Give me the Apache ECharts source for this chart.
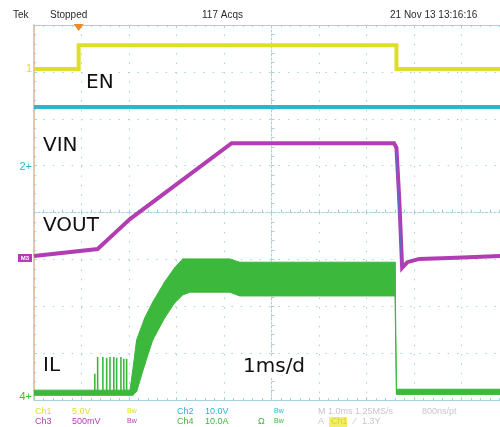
<!DOCTYPE html>
<html><head><meta charset="utf-8">
<script src="https://cdn.jsdelivr.net/npm/echarts@6/dist/echarts.min.js"></script>
<style>html,body{margin:0;padding:0;background:#fff}#c{width:500px;height:427px}</style>
</head><body><div id="c"></div>
<script>
// Horizontal: time in divisions (1 ms/div) relative to screen centre; the screen is cropped at the right.
// Vertical: level in divisions relative to screen centre.
const xMin = -5, xMax = 4.81;
const enT  = [-5, -4.06, -4.06, 2.63, 2.63, 5];
const enV  = [3.06, 3.06, 3.57, 3.57, 3.06, 3.06];
const ch2T = [-5, 5];
const ch2V = [2.25, 2.25];
const vT   = [-5, -3.66, -3.30, -2.98, -0.84, 2.58, 2.63, 2.69, 2.75, 2.86, 3.11, 3.74, 5];
const vV   = [-0.93, -0.78, -0.44, -0.14, 1.48, 1.48, 1.38, 0.27, -1.18, -1.06, -0.99, -0.97, -0.92];
const edgeT = [2.62, 2.74];
const edgeV = [1.30, -1.12];
const ilT    = [-5, -2.98, -2.92, -2.84, -2.67, -2.50, -2.25, -2.04, -1.87, -1.72, -0.88, -0.67, 2.60, 2.63, 5];
const ilHigh = [-3.79, -3.79, -3.36, -2.72, -2.25, -1.91, -1.48, -1.18, -0.99, -0.99, -0.99, -1.06, -1.06, -3.77, -3.77];
const ilLow  = [-3.90, -3.90, -3.90, -3.82, -3.25, -2.72, -2.25, -1.93, -1.76, -1.70, -1.70, -1.78, -1.78, -3.88, -3.88];
const spikeT   = [-3.72, -3.66, -3.55, -3.47, -3.40, -3.32, -3.26, -3.17, -3.11, -3.05];
const spikeTop = [-3.44, -3.08, -3.08, -3.10, -3.08, -3.08, -3.10, -3.08, -3.12, -3.12];
const ilBase = -3.86;
const triggerT = -4.06;
const chLevels = [3.06, 0.97, -0.97, -3.93];
const chNames  = ['1', '2', '3', '4'];
const chColors = ['#dede2a', '#2db4cf', '#b23db2', '#3cb83c'];
const traceLabels = [
  {text: 'EN',    x: 84,  y: 83},
  {text: 'VIN',   x: 41,  y: 146},
  {text: 'VOUT',  x: 41,  y: 226},
  {text: 'IL',    x: 41,  y: 366},
  {text: '1ms/d', x: 241, y: 367}
];

const zip = (a, b) => a.map((x, i) => [x, b[i]]);
const spikeData = [];
spikeT.forEach((t, i) => { spikeData.push([t, ilBase], [t, spikeTop[i]], [t, ilBase]); });
const bandData = [];
for (let i = 0; i < ilT.length - 1; i++) {
  bandData.push([ilT[i], ilHigh[i], ilLow[i], ilT[i + 1], ilHigh[i + 1], ilLow[i + 1]]);
}

const gridC = '#a6d2de';
const chart = echarts.init(document.getElementById('c'), null, {renderer: 'canvas'});

const lineS = (name, data, color, w, z) => ({
  name, type: 'line', data, symbol: 'none', showSymbol: false, z: z || 2,
  lineStyle: {color, width: w, join: 'miter'}, animation: false, silent: true
});
const edgeAxis = (pos) => ({
  type: 'value', min: xMin, max: xMax, interval: 1, position: pos,
  axisLine: {onZero: false, lineStyle: {color: gridC}},
  axisTick: {show: true, inside: true, length: 3, lineStyle: {color: gridC}},
  minorTick: {show: true, splitNumber: 5, length: 2, lineStyle: {color: gridC}},
  axisLabel: {show: false}, splitLine: {show: false}
});

chart.setOption({
  animation: false,
  backgroundColor: '#fff',
  grid: {left: 34, top: 25, width: 467, height: 375, show: false},
  xAxis: [
    {type: 'value', min: xMin, max: xMax, interval: 1, position: 'bottom',
     axisLine: {onZero: true, lineStyle: {color: gridC, type: [2, 2]}},
     axisTick: {show: true, inside: true, length: 3, lineStyle: {color: gridC}},
     minorTick: {show: true, splitNumber: 5, length: 3, lineStyle: {color: gridC}},
     axisLabel: {show: false},
     splitLine: {show: true, lineStyle: {color: gridC, type: [1.5, 7.9], width: 1}}},
    edgeAxis('top'),
    edgeAxis('bottom')
  ],
  yAxis: [
    {type: 'value', min: -4, max: 4, interval: 1, position: 'left',
     axisLine: {onZero: true, lineStyle: {color: gridC, type: [2, 2]}},
     axisTick: {show: true, inside: true, length: 3, lineStyle: {color: gridC}},
     minorTick: {show: true, splitNumber: 5, length: 3, lineStyle: {color: gridC}},
     axisLabel: {show: false},
     splitLine: {show: true, lineStyle: {color: gridC, type: [1.5, 7.9], width: 1}}},
    {type: 'value', min: -4, max: 4, interval: 1, position: 'left',
     axisLine: {onZero: false, lineStyle: {color: '#dcb48e', width: 1.5}},
     axisTick: {show: true, inside: true, length: 3, lineStyle: {color: gridC}},
     minorTick: {show: true, splitNumber: 5, length: 2, lineStyle: {color: gridC}},
     axisLabel: {show: false}, splitLine: {show: false}}
  ],
  series: [
    lineS('CH2', zip(ch2T, ch2V), chColors[1], 4, 2),
    lineS('EN', zip(enT, enV), chColors[0], 4, 3),
    lineS('VIN/VOUT', zip(vT, vV), chColors[2], 4, 3),
    lineS('edge', zip(edgeT, edgeV), '#5a6cc8', 1.2, 4),
    {name: 'IL', type: 'custom', data: bandData, z: 5, silent: true, clip: true,
     encode: {x: [0, 3], y: [1, 2, 4, 5]},
     renderItem: (params, api) => {
       const a = api.coord([api.value(0), api.value(1)]);
       const b = api.coord([api.value(3), api.value(4)]);
       const c = api.coord([api.value(3), api.value(5)]);
       const d = api.coord([api.value(0), api.value(2)]);
       return {type: 'polygon', shape: {points: [a, b, c, d]},
               style: {fill: chColors[3], stroke: chColors[3], lineWidth: 1}};
     }},
    lineS('IL spikes', spikeData, chColors[3], 1.6, 5)
  ]
});

const g = [];
const px = (t, v) => chart.convertToPixel({gridIndex: 0}, [t, v]);
const tp = px(triggerT, 4);
g.push({type: 'polygon', shape: {points: [[tp[0] - 5, tp[1] - 1], [tp[0] + 5, tp[1] - 1], [tp[0], tp[1] + 6]]},
        style: {fill: '#f08a24'}, z: 20});
chLevels.forEach((lv, i) => {
  const p = px(xMin, lv);
  if (i === 2) {
    g.push({type: 'rect', shape: {x: p[0] - 16, y: p[1] - 4, width: 14, height: 8}, style: {fill: chColors[i]}, z: 20});
    g.push({type: 'text', style: {text: 'M3', x: p[0] - 9, y: p[1], font: 'bold 6px "Liberation Sans"', fill: '#fff', align: 'center', verticalAlign: 'middle'}, z: 21});
  } else {
    g.push({type: 'text', style: {text: chNames[i] + (i === 0 ? '' : '+'), x: p[0] - 2, y: p[1], font: '11px "Liberation Sans"', fill: chColors[i], align: 'right', verticalAlign: 'middle'}, z: 20});
  }
});
traceLabels.forEach(l => {
  g.push({type: 'text', style: {text: l.text, x: l.x, y: l.y, font: '20px "DejaVu Sans"', fill: '#111', align: 'left', verticalAlign: 'middle', backgroundColor: '#fff', padding: [1, 2]}, z: 30});
});
const statusTexts = [['Tek', 13], ['Stopped', 50], ['117 Acqs', 202], ['21 Nov 13 13:16:16', 390]];
statusTexts.forEach(s => g.push({type: 'text', style: {text: s[0], x: s[1], y: 15, font: '10px "Liberation Sans"', fill: '#2a2a2a', verticalAlign: 'middle'}, z: 30}));
const info = [
  ['Ch1', 35, 412, chColors[0], 9], ['5.0V', 72, 412, chColors[0], 9], ['Bw', 127, 411, chColors[0], 7],
  ['Ch2', 177, 412, chColors[1], 9], ['10.0V', 205, 412, chColors[1], 9], ['Bw', 274, 411, chColors[1], 7],
  ['M 1.0ms 1.25MS/s', 318, 412, '#c6c6cc', 9], ['800ns/pt', 422, 412, '#c6c6cc', 9],
  ['Ch3', 35, 422, chColors[2], 9], ['500mV', 72, 422, chColors[2], 9], ['Bw', 127, 421, chColors[2], 7],
  ['Ch4', 177, 422, chColors[3], 9], ['10.0A', 205, 422, chColors[3], 9], ['Ω', 258, 422, chColors[3], 9], ['Bw', 274, 421, chColors[3], 7],
  ['A', 318, 422, '#c6c6cc', 9], ['∕', 354, 422, '#c6c6cc', 9], ['1.3Y', 362, 422, '#c6c6cc', 9]
];
g.push({type: 'rect', shape: {x: 329, y: 417, width: 18, height: 10}, style: {fill: '#f2ee6a'}, z: 29});
g.push({type: 'text', style: {text: 'Ch1', x: 331, y: 422, font: '9px "Liberation Sans"', fill: '#d8d040', verticalAlign: 'middle'}, z: 30});
info.forEach(s => g.push({type: 'text', style: {text: s[0], x: s[1], y: s[2], font: s[4] + 'px "Liberation Sans"', fill: s[3], verticalAlign: 'middle'}, z: 30}));

chart.setOption({graphic: g});
</script></body></html>
